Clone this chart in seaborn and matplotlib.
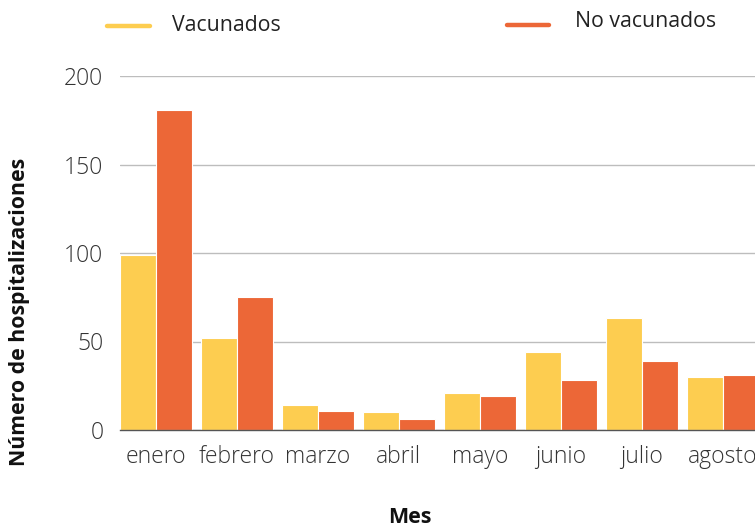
import matplotlib
matplotlib.use("Agg")
import matplotlib.pyplot as plt
import seaborn as sns
import pandas as pd
from matplotlib.lines import Line2D

meses = ["enero", "febrero", "marzo", "abril", "mayo", "junio", "julio", "agosto"]
vacunados = [99, 52, 14, 10, 21, 44, 63, 30]
no_vacunados = [181, 75, 11, 6, 19, 28, 39, 31]
series = ["Vacunados", "No vacunados"]
colores = ["#FDCD50", "#EC6737"]
yticks = [0, 50, 100, 150, 200]

df = pd.DataFrame({
    "Mes": meses * 2,
    "Valor": vacunados + no_vacunados,
    "Serie": [series[0]] * len(meses) + [series[1]] * len(meses),
})

sns.set_theme(style="white")
plt.rcParams["font.family"] = ["Open Sans", "DejaVu Sans"]

W, H = 755, 525
fig = plt.figure(figsize=(W / 100, H / 100), dpi=100)
ax = fig.add_axes([120 / W, 95 / H, 635 / W, 354 / H])

sns.barplot(data=df, x="Mes", y="Valor", hue="Serie", palette=colores,
            width=0.89, ax=ax, legend=False, edgecolor="white", linewidth=0.8,
            saturation=1)

ax.set_xlim(-0.445, 7.40)
ax.set_ylim(0, 200)
ax.set_yticks(yticks)
ax.set_yticklabels([str(t) for t in yticks])
ax.yaxis.grid(True, color="#BDBDBD", linewidth=1)
ax.set_axisbelow(True)
for s in ["top", "right", "left"]:
    ax.spines[s].set_visible(False)
ax.spines["bottom"].set_color("#555555")
ax.spines["bottom"].set_linewidth(1)
ax.tick_params(axis="both", length=0, labelsize=16.5, labelcolor="#333333")
ax.tick_params(axis="x", pad=11)
ax.tick_params(axis="y", pad=12)
for lab in ax.get_xticklabels() + ax.get_yticklabels():
    lab.set_fontweight("light")
ax.set_xlabel("")
ax.set_ylabel("")

fig.text(20 / W, 1 - 312 / H, "Número de hospitalizaciones", rotation=90,
         ha="center", va="center", fontsize=15.3, fontweight="bold", color="#111111")
fig.text(410 / W, 2 / H, "Mes", ha="center", va="baseline",
         fontsize=15.5, fontweight="bold", color="#111111")

# legend drawn in figure coordinates
leg_lines = [(107, 150, 25.5), (507, 549, 25)]
leg_texts = [(172, 31), (575, 27)]
for (x0, x1, y), (tx, ty), c, lab in zip(leg_lines, leg_texts, colores, series):
    fig.add_artist(Line2D([x0 / W, x1 / W], [1 - y / H, 1 - y / H], color=c,
                          linewidth=3.2, solid_capstyle="round",
                          transform=fig.transFigure))
    fig.text(tx / W, 1 - ty / H, lab, ha="left", va="baseline", fontsize=15.3,
             color="#222222")

fig.savefig("out.png", dpi=100)
